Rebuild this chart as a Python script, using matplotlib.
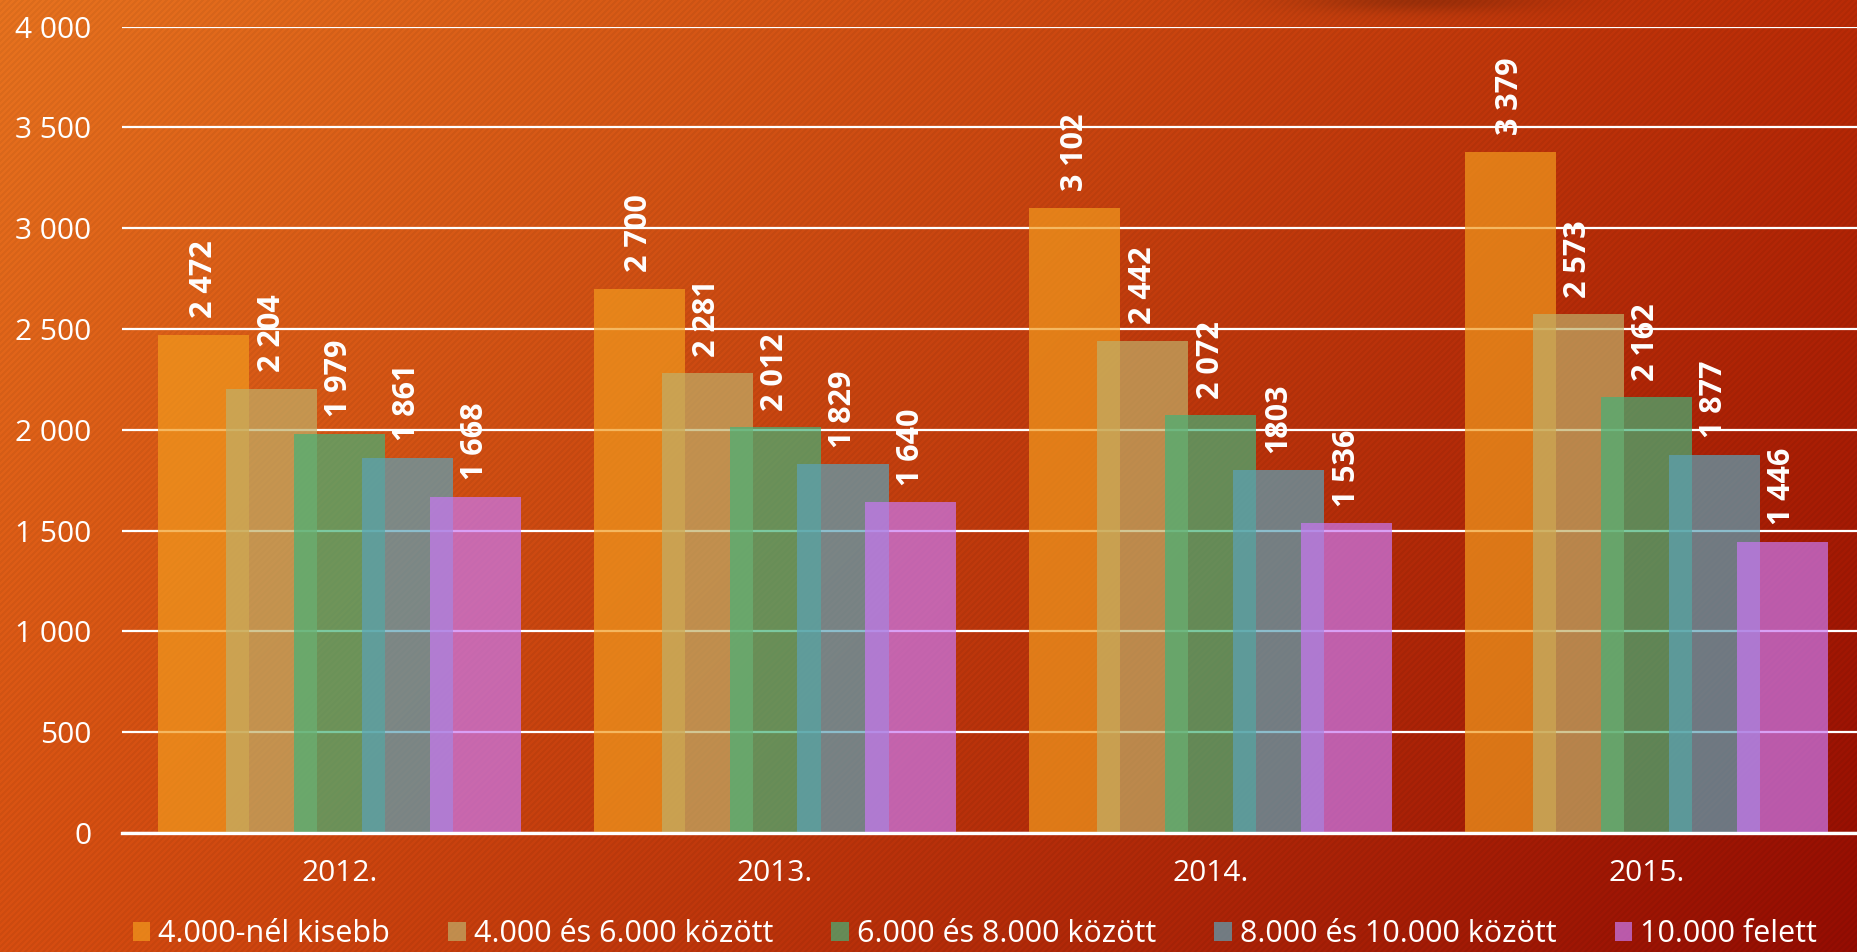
import numpy as np
import matplotlib
matplotlib.use("Agg")
import matplotlib.pyplot as plt
from matplotlib.patches import Patch
from matplotlib.ticker import FuncFormatter

plt.rcParams['font.family'] = ['Open Sans', 'DejaVu Sans']

years = ["2012.", "2013.", "2014.", "2015."]
series_names = ["4.000-nél kisebb", "4.000 és 6.000 között", "6.000 és 8.000 között",
                "8.000 és 10.000 között", "10.000 felett"]
below_4000 = [2472, 2700, 3102, 3379]
from_4000_to_6000 = [2204, 2281, 2442, 2573]
from_6000_to_8000 = [1979, 2012, 2072, 2162]
from_8000_to_10000 = [1861, 1829, 1803, 1877]
above_10000 = [1668, 1640, 1536, 1446]
# the 2014 label of the 8.000-10.000 series is written without a space in the original
label_overrides = {(3, 2): "1803"}

series = [below_4000, from_4000_to_6000, from_6000_to_8000, from_8000_to_10000, above_10000]
colors = ["#F29B1E", "#C0B069", "#45B278", "#5CA2B7", "#C978F2"]
alpha = 0.7

W, H = 1858, 952
fig = plt.figure(figsize=(W / 100, H / 100), dpi=100)

# background: diagonal orange -> dark red gradient with faint stripes
yy, xx = np.mgrid[0:H, 0:W]
u = xx / (W - 1)
v = yy / (H - 1)
tl = np.array([226, 112, 30])
tr = np.array([181, 42, 6])
bl = np.array([210, 76, 16])
br = np.array([145, 12, 2])
top = tl[None, None, :] * (1 - u[..., None]) + tr[None, None, :] * u[..., None]
bot = bl[None, None, :] * (1 - u[..., None]) + br[None, None, :] * u[..., None]
bg = top * (1 - v[..., None]) + bot * v[..., None]
stripes = np.where((xx + yy) % 6 < 3, 1.025, 0.975)
shadow = 1 - 0.2 * np.exp(-((xx - 1420) / 120.0) ** 2 - (yy / 12.0) ** 2)
bg = bg * (stripes * shadow)[..., None]
bg = np.clip(bg, 0, 255).astype(np.uint8)

bg_ax = fig.add_axes([0, 0, 1, 1], zorder=-1)
bg_ax.imshow(bg, aspect='auto', interpolation='nearest')
bg_ax.axis('off')

ax = fig.add_axes([121.7 / W, 119 / H, (1864 - 121.7) / W, 806.3 / H])
ax.set_facecolor('none')

x = np.arange(len(years))
width = 0.209
step = 0.156
for i, (vals, name, c) in enumerate(zip(series, series_names, colors)):
    pos = x + (i - 2) * step
    ax.bar(pos, vals, width=width, color=c, alpha=alpha, zorder=2 + i, linewidth=0)
    for j, val in enumerate(vals):
        txt = label_overrides.get((i, j), f"{val:,}".replace(",", " "))
        ax.annotate(txt, (pos[j], val), xytext=(0, 12), textcoords='offset points',
                    rotation=90, ha='center', va='bottom', color='white',
                    fontsize=22, fontweight='bold', zorder=10, annotation_clip=False)

ax.set_xlim(-0.5, 3.5)
ax.set_ylim(0, 4000)
ax.set_yticks(np.arange(0, 4001, 500))
ax.yaxis.set_major_formatter(FuncFormatter(lambda v, p: f"{int(v):,}".replace(",", " ")))
ax.set_xticks(x)
ax.set_xticklabels(years)
ax.grid(axis='y', color='white', linewidth=1.6, zorder=1)
ax.set_axisbelow(True)
for s in ['top', 'right', 'left']:
    ax.spines[s].set_visible(False)
ax.spines['bottom'].set_color('white')
ax.spines['bottom'].set_linewidth(2.4)
ax.spines['bottom'].set_zorder(20)
ax.tick_params(axis='y', length=0, pad=22, labelsize=21.5, labelcolor='white')
ax.tick_params(axis='x', length=0, pad=19, labelsize=21.5, labelcolor='white')

handles = [Patch(facecolor=c, alpha=alpha, linewidth=0) for c in colors]
fig.legend(handles, series_names, loc='center', bbox_to_anchor=(975 / W, 18 / H),
           ncol=5, frameon=False, fontsize=22, labelcolor='white',
           handlelength=0.57, handleheight=0.57, handletextpad=0.27,
           columnspacing=1.9, borderaxespad=0, borderpad=0)

fig.savefig("out.png", dpi=100)
